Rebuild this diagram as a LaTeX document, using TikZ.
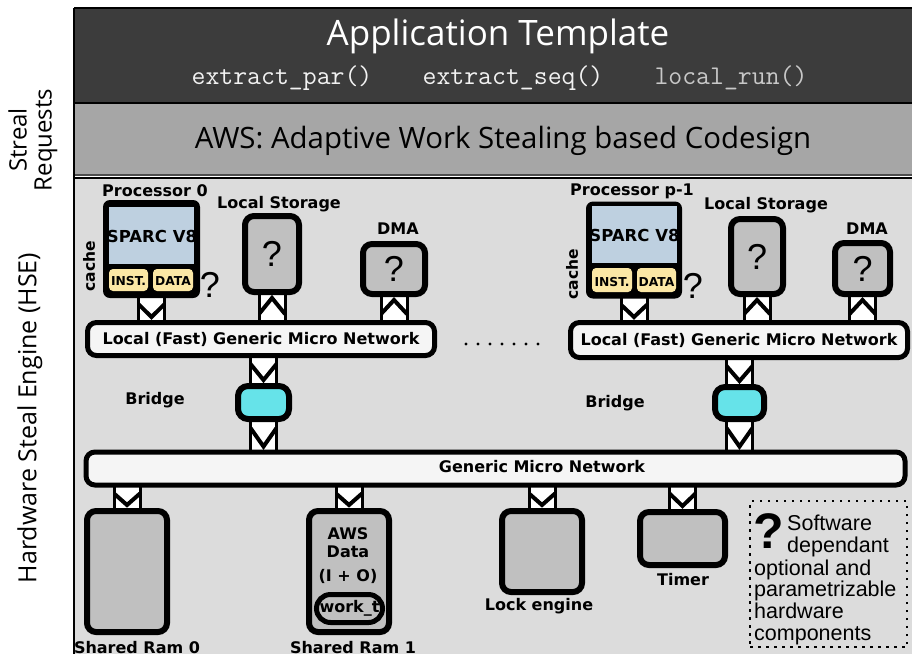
\documentclass[tikz,border=0pt]{standalone}
\usepackage{fontspec}
\setmainfont{DejaVu Sans}
\newfontfamily\hdrfont{Open Sans}
\newfontfamily\legfont{Liberation Sans}
\usetikzlibrary{calc}
\pgfdeclarelayer{back}
\pgfdeclarelayer{links}
\pgfsetlayers{back,links,main}

\definecolor{banddark}{HTML}{3C3C3C}
\definecolor{bandmid}{HTML}{A6A6A6}
\definecolor{hsebg}{HTML}{DCDCDC}
\definecolor{unitgray}{HTML}{C0C0C0}
\definecolor{netwhite}{HTML}{F5F5F5}
\definecolor{sparcblue}{HTML}{BED0E0}
\definecolor{cacheyellow}{HTML}{FBE7A5}
\definecolor{bridgecyan}{HTML}{66E3E9}
\definecolor{codewhite}{HTML}{F2F2F2}
\definecolor{codegray}{HTML}{C8C8C8}

\tikzset{
  lbl/.style={font=\bfseries\fontsize{16}{18}\selectfont, inner sep=0pt},
  smalllbl/.style={font=\bfseries\fontsize{12.3}{13}\selectfont, inner sep=0pt},
  unitbox/.style={draw=black, line width=6pt, fill=unitgray, rounded corners=9pt, inner sep=0pt},
  netbox/.style={draw=black, line width=5pt, fill=netwhite, rounded corners=9pt, inner sep=0pt,
                 font=\bfseries\fontsize{16}{18}\selectfont},
  bridgebox/.style={draw=black, line width=6pt, fill=bridgecyan, rounded corners=10pt, inner sep=0pt},
  cpubox/.style={fill=black, rounded corners=7pt, inner sep=0pt},
  qmark/.style={font=\legfont\fontsize{36}{36}\selectfont, inner sep=0pt},
  lnk/.style={draw=black, line width=3pt, fill=white, minimum width=26pt, inner sep=0pt},
  lnkdown/.style={lnk, path picture={
      \draw[line width=4pt]
        ($(path picture bounding box.north west)+(0,-9pt)$) --
        ($(path picture bounding box.south)+(0,6pt)$) --
        ($(path picture bounding box.north east)+(0,-9pt)$);}},
  lnkup/.style={lnk, path picture={
      \draw[line width=4pt]
        ($(path picture bounding box.south west)+(0,9pt)$) --
        ($(path picture bounding box.north)+(0,-6pt)$) --
        ($(path picture bounding box.south east)+(0,9pt)$);}},
  legendbox/.style={draw=black, line width=2.5pt, dash pattern=on 2.5pt off 5.5pt, inner sep=0pt},
}

% #1 style, #2 name, #3 upper node, #4 lower node, #5 node giving the x position
\newcommand\vlink[5]{%
  \path let \p1=(#5.center), \p2=(#3.south), \p3=(#4.north) in
    node[#1, minimum height={(\y2)-(\y3)+6pt}] (#2) at (\x1,{0.5*(\y2)+0.5*(\y3)}) {};}

\begin{document}
\begin{tikzpicture}[x=1pt,y=-1pt]
\useasboundingbox (0,0) rectangle (912,654);

% ---- layered bands ----
\begin{pgfonlayer}{back}
  \fill[white] (0,0) rectangle (912,654);
  \fill[banddark] (74,8) rectangle (912,103);
  \fill[bandmid] (74,103) rectangle (912,176);
  \fill[hsebg] (74,177) rectangle (912,654);
  \draw[line width=2pt] (74,8) -- (912,8);
  \draw[line width=2pt] (74,103) -- (912,103);
  \draw[line width=1.5pt, black!70] (74,175) -- (912,175);
  \draw[line width=1.5pt] (74,178) -- (912,178);
  \draw[line width=2pt] (74,8) -- (74,654);
\end{pgfonlayer}

\node[font=\hdrfont\fontsize{35}{38}\selectfont, text=white, inner sep=0pt] (title) at (498,36) {Application Template};
\node[font=\ttfamily\fontsize{27}{30}\selectfont, text=codewhite, inner sep=0pt, anchor=base] (fpar) at (282,84) {extract\_par()};
\node[font=\ttfamily\fontsize{27}{30}\selectfont, text=codewhite, inner sep=0pt, anchor=base] (fseq) at (513,84) {extract\_seq()};
\node[font=\ttfamily\fontsize{27}{30}\selectfont, text=codegray, inner sep=0pt, anchor=base] (frun) at (731,84) {local\_run()};
\node[font=\hdrfont\fontsize{29.4}{31}\selectfont, inner sep=0pt] (aws) at (503,141) {AWS: Adaptive Work Stealing based Codesign};

\node[rotate=90, font=\hdrfont\fontsize{24}{25}\selectfont, align=center, inner sep=0pt] (streal) at (33,140) {Streal\\Requests};
\node[rotate=90, font=\hdrfont\fontsize{25}{26}\selectfont, inner sep=0pt] (hse) at (30,418) {Hardware Steal Engine (HSE)};

% ---- processor 0 side ----
\node[lbl] (p0lbl) at (155,191) {Processor 0};
\node[cpubox, minimum width=97pt, minimum height=98pt] (p0) at (151.5,249) {};
\fill[sparcblue] (109,207) rectangle (194,264);
\node[lbl, font=\bfseries\fontsize{16.5}{18}\selectfont] (cpu0) at (152,236) {SPARC V8};
\fill[cacheyellow, rounded corners=4pt] (109,269) rectangle (148,291);
\fill[cacheyellow, rounded corners=4pt] (153,269) rectangle (193,291);
\node[smalllbl] (inst0) at (128.5,281) {INST.};
\node[smalllbl] (data0) at (173,281) {DATA};
\node[lbl, rotate=90, font=\bfseries\fontsize{15.5}{17}\selectfont] (cache0) at (89,266) {cache};
\node[qmark] (q0) at (210,285) {?};

\node[lbl] (ls0lbl) at (279,204) {Local Storage};
\node[unitbox, minimum width=54pt, minimum height=76pt] (ls0) at (272,254) {};
\node[qmark] at (ls0) {?};
\node[lbl] (dma0lbl) at (398,229) {DMA};
\node[unitbox, minimum width=62pt, minimum height=50pt] (dma0) at (394,269) {};
\node[qmark] at (dma0) {?};

\node[netbox, minimum width=347pt, minimum height=33pt] (net0) at (261,339) {Local (Fast) Generic Micro Network};

\foreach \i in {0,...,6} \fill (466+\i*12,344) circle (1.7);

\node[lbl] (br0lbl) at (155,400) {Bridge};
\node[bridgebox, minimum width=51pt, minimum height=33pt] (br0) at (263.5,402.5) {};

% ---- processor p-1 side ----
\node[lbl] (p1lbl) at (632,191) {Processor p-1};
\node[cpubox, minimum width=96pt, minimum height=97pt] (p1) at (634,250) {};
\fill[sparcblue] (592,206) rectangle (677,263);
\node[lbl, font=\bfseries\fontsize{16.5}{18}\selectfont] (cpu1) at (634.5,235) {SPARC V8};
\fill[cacheyellow, rounded corners=4pt] (592,268) rectangle (632,292);
\fill[cacheyellow, rounded corners=4pt] (637,268) rectangle (676,292);
\node[smalllbl] (inst1) at (612,282) {INST.};
\node[smalllbl] (data1) at (656.5,282) {DATA};
\node[lbl, rotate=90, font=\bfseries\fontsize{15.5}{17}\selectfont] (cache1) at (572,274) {cache};
\node[qmark] (q1) at (693,286) {?};

\node[lbl] (ls1lbl) at (766,205) {Local Storage};
\node[unitbox, minimum width=52pt, minimum height=75pt] (ls1) at (757,256.5) {};
\node[qmark] at (ls1) {?};
\node[lbl] (dma1lbl) at (867,229) {DMA};
\node[unitbox, minimum width=55pt, minimum height=51pt] (dma1) at (862.5,268.5) {};
\node[qmark] at (dma1) {?};

\node[netbox, minimum width=337pt, minimum height=35pt] (net1) at (739,340) {Local (Fast) Generic Micro Network};

\node[lbl] (br1lbl) at (615,403) {Bridge};
\node[bridgebox, minimum width=49pt, minimum height=32pt] (br1) at (739.5,403) {};

% ---- shared part ----
\node[netbox, minimum width=819pt, minimum height=33pt] (gmn) at (495.5,468.5) {};
\node[lbl] (gmnlbl) at (542,467) {Generic Micro Network};

\node[unitbox, minimum width=80pt, minimum height=121pt] (sr0) at (127,571.5) {};
\node[lbl] (sr0lbl) at (137,648) {Shared Ram 0};
\node[unitbox, minimum width=80pt, minimum height=121pt] (sr1) at (349,571.5) {};
\node[lbl, align=center, anchor=north] (awsdata) at (348,527) {AWS\\Data\\[6pt](I + O)};
\node[draw=black, line width=5pt, fill=unitgray, rounded corners=14pt, minimum width=66pt,
      minimum height=28pt, inner sep=0pt, font=\bfseries\fontsize{16}{18}\selectfont] (workt) at (349.5,608.5) {work\_t};
\node[lbl] (sr1lbl) at (353,648) {Shared Ram 1};
\node[unitbox, minimum width=80pt, minimum height=81pt] (lock) at (542,551.5) {};
\node[lbl] (locklbl) at (539,606.5) {Lock engine};
\node[unitbox, minimum width=85pt, minimum height=53pt] (timer) at (682.5,538.5) {};
\node[lbl] (timerlbl) at (683,580) {Timer};

% ---- legend ----
\node[legendbox, minimum width=157pt, minimum height=146pt] (legend) at (828.5,574) {};
\node[font=\legfont\bfseries\fontsize{50}{50}\selectfont, inner sep=0pt] (legq) at (769,531) {?};
\node[font=\legfont\fontsize{21.5}{21.7}\selectfont, inner sep=0pt, align=left, anchor=north west] (legtop) at (787,515) {Software\\dependant};
\node[font=\legfont\fontsize{21.5}{21.7}\selectfont, inner sep=0pt, align=left, anchor=north west] (legbot) at (754,559.5) {optional and\\parametrizable\\hardware\\components};

% ---- links between units and networks ----
\begin{pgfonlayer}{links}
  \vlink{lnkdown}{lp0}{p0}{net0}{p0}
  \vlink{lnkup}{lls0}{ls0}{net0}{ls0}
  \vlink{lnkup}{ldma0}{dma0}{net0}{dma0}
  \vlink{lnkdown}{lbr0a}{net0}{br0}{br0}
  \vlink{lnkdown}{lbr0b}{br0}{gmn}{br0}
  \vlink{lnkdown}{lp1}{p1}{net1}{p1}
  \vlink{lnkup}{lls1}{ls1}{net1}{ls1}
  \vlink{lnkup}{ldma1}{dma1}{net1}{dma1}
  \vlink{lnkdown}{lbr1a}{net1}{br1}{br1}
  \vlink{lnkdown}{lbr1b}{br1}{gmn}{br1}
  \vlink{lnkdown}{lsr0}{gmn}{sr0}{sr0}
  \vlink{lnkdown}{lsr1}{gmn}{sr1}{sr1}
  \vlink{lnkdown}{llock}{gmn}{lock}{lock}
  \vlink{lnkdown}{ltimer}{gmn}{timer}{timer}
\end{pgfonlayer}
\end{tikzpicture}
\end{document}
